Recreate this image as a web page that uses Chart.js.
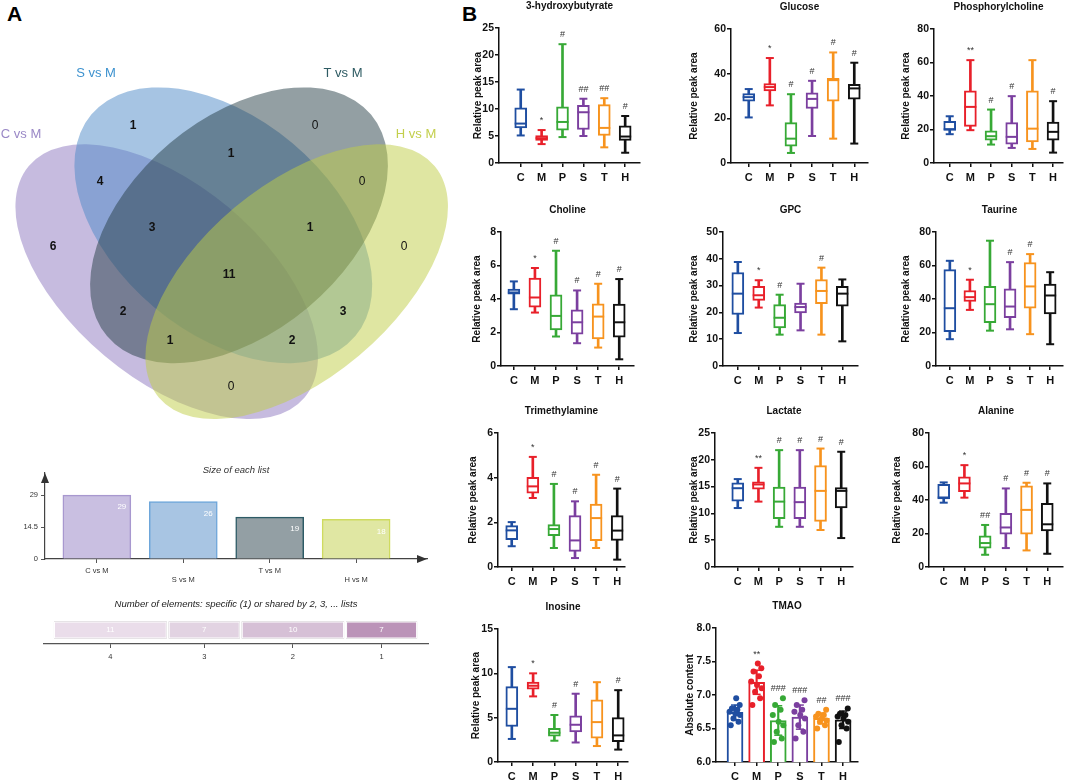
<!DOCTYPE html>
<html>
<head>
<meta charset="utf-8">
<script src="https://cdn.jsdelivr.net/npm/chart.js@4.4.1/dist/chart.umd.min.js"></script>
<style>
  body { margin: 0; background: #fff; }
  #fig { position: relative; width: 1072px; height: 782px; overflow: hidden; font-family: "Liberation Sans", Arial, sans-serif; }
  #fig canvas { position: absolute; }
  .tag { position: absolute; font-weight: bold; font-size: 21px; color: #000; }
</style>
</head>
<body>
<div id="fig">
  <div class="tag" style="left:7px;top:2px">A</div>
  <div class="tag" style="left:462px;top:2px">B</div>
</div>
<script>
// ---------- DATA ----------
const groups = ['C', 'M', 'P', 'S', 'T', 'H'];

// each row: [min, q1, median, q3, max] for C, M, P, S, T, H
const hydroxybutyrate = [[5.1, 6.5, 7.3, 10.2, 13.6], [3.5, 4.2, 4.6, 5.1, 6.1], [4.8, 6.1, 7.6, 10.4, 22.0], [5.0, 6.2, 9.4, 10.7, 11.9], [2.9, 5.1, 6.5, 10.8, 12.0], [1.9, 4.2, 4.9, 6.9, 8.7]];
const hydroxybutyrateSig = ['', '*', '#', '##', '##', '#'];
const glucose = [[20.4, 27.7, 29.5, 31.1, 33.1], [25.8, 32.3, 34.0, 35.6, 47.0], [4.5, 7.5, 10.9, 18.1, 30.8], [12.1, 24.4, 28.7, 31.4, 36.8], [10.9, 27.7, 37.1, 37.9, 49.5], [8.7, 28.6, 33.4, 35.2, 44.9]];
const glucoseSig = ['', '*', '#', '#', '#', '#'];
const phosphorylcholine = [[17.2, 19.5, 20.2, 24.9, 27.9], [19.6, 21.9, 33.5, 43.1, 61.4], [11.0, 13.6, 16.0, 19.2, 31.9], [9.0, 11.2, 15.6, 24.1, 39.9], [8.4, 12.6, 20.5, 43.1, 61.4], [6.2, 13.6, 18.6, 24.5, 36.9]];
const phosphorylcholineSig = ['', '**', '#', '#', '', '#'];
const choline = [[3.39, 4.29, 4.39, 4.59, 5.05], [3.19, 3.51, 4.09, 5.25, 5.85], [1.76, 2.15, 2.99, 4.25, 6.88], [1.36, 1.9, 2.61, 3.35, 4.51], [1.1, 1.62, 2.95, 3.71, 4.91], [0.4, 1.72, 2.61, 3.69, 5.19]];
const cholineSig = ['', '*', '#', '#', '#', '#'];
const gpc = [[12.3, 19.2, 27.0, 34.9, 38.8], [21.8, 24.5, 26.4, 29.7, 32.0], [11.7, 14.2, 18.0, 22.9, 26.6], [13.3, 19.8, 22.0, 23.5, 30.7], [11.7, 23.3, 28.0, 32.2, 36.7], [9.2, 22.3, 27.0, 29.7, 32.3]];
const gpcSig = ['', '*', '#', '', '#', ''];
const taurine = [[16.0, 20.5, 34.5, 57.5, 62.8], [33.5, 38.5, 41.1, 45.1, 51.5], [21.1, 25.9, 36.9, 47.5, 74.8], [21.9, 28.9, 35.5, 46.1, 62.0], [19.0, 34.5, 47.5, 61.8, 66.8], [13.0, 31.1, 42.1, 48.9, 56.0]];
const taurineSig = ['', '*', '', '#', '#', ''];
const trimethylamine = [[0.93, 1.22, 1.64, 1.85, 2.01], [3.09, 3.31, 3.61, 4.01, 4.93], [0.85, 1.4, 1.7, 1.9, 3.72], [0.4, 0.7, 1.19, 2.3, 2.94], [0.85, 1.18, 2.19, 2.82, 4.13], [0.33, 1.19, 1.63, 2.3, 3.51]];
const trimethylamineSig = ['', '*', '#', '#', '#', '#'];
const lactate = [[11.0, 12.3, 14.7, 15.7, 16.4], [12.2, 14.5, 15.4, 15.9, 18.5], [7.5, 9.0, 12.2, 14.9, 21.8], [7.5, 9.0, 12.1, 14.9, 21.8], [6.9, 8.5, 14.2, 18.9, 22.1], [5.4, 11.0, 14.2, 14.8, 21.5]];
const lactateSig = ['', '**', '#', '#', '#', '#'];
const alanine = [[38.4, 40.6, 41.5, 49.3, 50.5], [41.4, 45.0, 49.9, 53.9, 60.8], [7.3, 11.3, 14.3, 18.6, 25.1], [11.3, 19.6, 23.6, 32.1, 46.9], [9.9, 19.6, 34.1, 48.5, 50.3], [7.9, 21.6, 25.5, 38.0, 49.9]];
const alanineSig = ['', '*', '##', '#', '#', '#'];
const inosine = [[2.6, 4.0, 6.0, 8.5, 10.7], [7.4, 8.2, 8.6, 9.0, 10.0], [2.4, 2.9, 3.3, 3.8, 5.3], [2.2, 3.4, 4.2, 5.2, 7.7], [1.8, 2.7, 4.5, 7.0, 9.0], [1.4, 2.3, 3.0, 5.0, 8.1]];
const inosineSig = ['', '*', '#', '#', '', '#'];

const tmaoMean = [6.74, 7.19, 6.62, 6.67, 6.65, 6.63];
const tmaoSd = [0.11, 0.18, 0.22, 0.18, 0.08, 0.13];
const tmaoPoints = [
  [6.55, 6.6, 6.65, 6.7, 6.72, 6.75, 6.78, 6.8, 6.85, 6.95],
  [6.85, 6.95, 7.05, 7.1, 7.15, 7.2, 7.28, 7.35, 7.4, 7.47],
  [6.3, 6.35, 6.45, 6.55, 6.6, 6.7, 6.78, 6.85, 6.95],
  [6.35, 6.45, 6.55, 6.65, 6.7, 6.75, 6.78, 6.85, 6.92],
  [6.5, 6.55, 6.6, 6.62, 6.65, 6.68, 6.7, 6.72, 6.78],
  [6.3, 6.5, 6.55, 6.6, 6.65, 6.68, 6.7, 6.72, 6.8]
];
const tmaoSig = ['', '**', '###', '###', '##', '###'];

// Venn (panel A)
const vennSets = ['C vs M', 'S vs M', 'T vs M', 'H vs M'];
const vennRegions = ['C', 'S', 'T', 'H', 'CS', 'ST', 'TH', 'CT', 'SH', 'CH', 'CST', 'STH', 'CTH', 'CSH', 'CSTH'];
const vennCounts = [6, 1, 0, 0, 4, 1, 0, 2, 3, 0, 3, 1, 1, 2, 11];
const listSizes = [29, 26, 19, 18];
const degreeLabels = ['4', '3', '2', '1'];
const degreeCounts = [11, 7, 10, 7];

// ---------- STYLE / LAYOUT ----------
const ink = '#111';
const fam = '"Liberation Sans", Arial, Helvetica, sans-serif';
const groupColors = ['#1f4ea1', '#e8202a', '#37a936', '#7b3f9f', '#f7931e', '#111111'];
const jitter = [-0.22, 0.18, -0.08, 0.26, 0.02, -0.28, 0.12, -0.16, 0.24, 0.06];

Chart.defaults.font.family = fam;
Chart.defaults.color = ink;

const fig = document.getElementById('fig');
function makeCanvas(left, top, w, h) {
  const c = document.createElement('canvas');
  c.width = w; c.height = h;
  c.style.left = left + 'px'; c.style.top = top + 'px';
  c.style.width = w + 'px'; c.style.height = h + 'px';
  fig.appendChild(c);
  return c;
}

const geom = {
  hb:       {x0: 499, x1: 642,  top: 28,  bottom: 163, labelX: 478, xmin: -0.04, xmax: 6.71},
  glucose:  {x0: 731, x1: 870,  top: 29,  bottom: 163, labelX: 694, xmin: 0.16, xmax: 6.65},
  phospho:  {x0: 934, x1: 1065, top: 29,  bottom: 163, labelX: 906, xmin: 0.24, xmax: 6.48},
  choline:  {x0: 501, x1: 636,  top: 232, bottom: 366, labelX: 477, xmin: 0.39, xmax: 6.7},
  gpc:      {x0: 723, x1: 860,  top: 232, bottom: 366, labelX: 694, xmin: 0.29, xmax: 6.75},
  taurine:  {x0: 936, x1: 1065, top: 232, bottom: 366, labelX: 906, xmin: 0.31, xmax: 6.64},
  tma:      {x0: 498, x1: 627,  top: 433, bottom: 567, labelX: 473, xmin: 0.35, xmax: 6.37},
  lactate:  {x0: 715, x1: 855,  top: 433, bottom: 567, labelX: 694, xmin: -0.1, xmax: 6.57},
  alanine:  {x0: 929, x1: 1065, top: 433, bottom: 567, labelX: 897, xmin: 0.29, xmax: 6.76},
  inosine:  {x0: 498, x1: 630,  top: 629, bottom: 762, labelX: 476, xmin: 0.35, xmax: 6.46},
  tmao:     {x0: 716, x1: 858,  top: 628, bottom: 762, labelX: 690, xmin: 0.12, xmax: 6.69}
};

function sigPlugin(marks, tops) {
  return {
    id: 'sig',
    afterDatasetsDraw(chart) {
      const {ctx, scales: {x, y}} = chart;
      ctx.save();
      ctx.font = '9px ' + fam;
      ctx.fillStyle = '#333';
      ctx.textAlign = 'center';
      ctx.textBaseline = 'alphabetic';
      marks.forEach((m, i) => {
        if (!m) return;
        ctx.fillText(m, x.getPixelForValue(i + 1), y.getPixelForValue(tops[i]) - 7);
      });
      ctx.restore();
    }
  };
}

function panelOptions(g, left, title, yTitle, yMin, yMax, yStep, yFmt) {
  return {
    responsive: false, animation: false, events: [],
    layout: {padding: {left: 0, right: 6, top: 0, bottom: 0}},
    plugins: {
      legend: {display: false}, tooltip: {enabled: false},
      title: {display: true, text: title, color: ink, font: {size: 10, weight: 'bold'},
              padding: {top: 2, bottom: 16}, fullSize: false}
    },
    scales: {
      x: {
        type: 'linear', min: g.xmin, max: g.xmax, offset: false, bounds: 'data',
        afterBuildTicks: s => { s.ticks = groups.map((_, i) => ({value: i + 1})); },
        afterFit: s => { s.height = 30; },
        ticks: {callback: (v, i) => groups[i], color: ink, font: {size: 11, weight: 'bold'},
                padding: 4, maxRotation: 0, autoSkip: false},
        grid: {drawOnChartArea: false, tickLength: 4, color: ink, lineWidth: 1.5, offset: false},
        border: {color: ink, width: 1.5}
      },
      y: {
        min: yMin, max: yMax,
        afterFit: s => { s.width = g.x0 - left; },
        ticks: {stepSize: yStep, color: ink, font: {size: 10.5, weight: 'bold'}, padding: 1,
                callback: yFmt || (v => v)},
        grid: {drawOnChartArea: false, tickLength: 4, color: ink, lineWidth: 1.5},
        border: {color: ink, width: 1.5},
        title: {display: true, text: yTitle, color: ink, font: {size: 10, weight: 'bold'}, padding: 0}
      }
    }
  };
}

function boxChart(g, title, yMax, yStep, stats, sig) {
  const left = Math.round(g.labelX - 6);
  const top = g.top - 30;
  const canvas = makeCanvas(left, top, g.x1 - left + 6, g.bottom - top + 30);
  const pick = k => stats.map((s, i) => ({x: i + 1, y: s[k]}));
  const pts = (k, r) => ({type: 'line', data: pick(k), showLine: false, pointStyle: 'line',
    pointRadius: r, pointHoverRadius: r, pointBorderWidth: 2, pointBorderColor: groupColors, order: 0});
  new Chart(canvas, {
    type: 'bar',
    data: {datasets: [
      pts(2, 6), pts(4, 4), pts(0, 4),
      {data: stats.map((s, i) => ({x: i + 1, y: [s[1], s[3]]})), backgroundColor: '#fff',
       borderColor: groupColors, borderWidth: 2, borderSkipped: false, barThickness: 12, grouped: false, order: 1},
      {data: stats.map((s, i) => ({x: i + 1, y: [s[0], s[4]]})), backgroundColor: groupColors,
       borderWidth: 0, barThickness: 2, grouped: false, order: 2}
    ]},
    options: panelOptions(g, left, title, 'Relative peak area', 0, yMax, yStep),
    plugins: [sigPlugin(sig, stats.map(s => s[4]))]
  });
}

boxChart(geom.hb, '3-hydroxybutyrate', 25, 5, hydroxybutyrate, hydroxybutyrateSig);
boxChart(geom.glucose, 'Glucose', 60, 20, glucose, glucoseSig);
boxChart(geom.phospho, 'Phosphorylcholine', 80, 20, phosphorylcholine, phosphorylcholineSig);
boxChart(geom.choline, 'Choline', 8, 2, choline, cholineSig);
boxChart(geom.gpc, 'GPC', 50, 10, gpc, gpcSig);
boxChart(geom.taurine, 'Taurine', 80, 20, taurine, taurineSig);
boxChart(geom.tma, 'Trimethylamine', 6, 2, trimethylamine, trimethylamineSig);
boxChart(geom.lactate, 'Lactate', 25, 5, lactate, lactateSig);
boxChart(geom.alanine, 'Alanine', 80, 20, alanine, alanineSig);
boxChart(geom.inosine, 'Inosine', 15, 5, inosine, inosineSig);

// --- TMAO: bars with SD and individual points ---
(function () {
  const g = geom.tmao;
  const left = Math.round(g.labelX - 6);
  const top = g.top - 30;
  const canvas = makeCanvas(left, top, g.x1 - left + 6, g.bottom - top + 30);
  const dots = [], dotColors = [];
  tmaoPoints.forEach((arr, i) => arr.forEach((v, j) => {
    dots.push({x: i + 1 + jitter[j % jitter.length] * 0.9, y: v});
    dotColors.push(groupColors[i]);
  }));
  const cap = sign => ({type: 'line', showLine: false, pointStyle: 'line', pointRadius: 4,
    pointBorderWidth: 1.5, pointBorderColor: groupColors, order: 1,
    data: tmaoMean.map((m, i) => ({x: i + 1, y: m + sign * tmaoSd[i]}))});
  const opts = panelOptions(g, left, 'TMAO', 'Absolute content', 6, 8, 0.5, v => v.toFixed(1));
  new Chart(canvas, {
    type: 'bar',
    data: {datasets: [
      {type: 'scatter', data: dots, pointRadius: 3, pointHoverRadius: 3, pointBackgroundColor: dotColors,
       pointBorderWidth: 0, order: 0},
      cap(1), cap(-1),
      {data: tmaoMean.map((m, i) => ({x: i + 1, y: [m - tmaoSd[i], m + tmaoSd[i]]})),
       backgroundColor: groupColors, borderWidth: 0, barThickness: 1.5, grouped: false, order: 2},
      {data: tmaoMean.map((m, i) => ({x: i + 1, y: [6, m]})), backgroundColor: '#fff',
       borderColor: groupColors, borderWidth: 2, borderSkipped: 'start', barThickness: 16, grouped: false, order: 3}
    ]},
    options: opts,
    plugins: [sigPlugin(tmaoSig, tmaoPoints.map(a => Math.max(...a)))]
  });
})();

// --- Panel A: Venn diagram ---
const vennShapes = [
  {cx: 166.7, cy: 281.7, rx: 180, ry: 96.7, rot: 40, fill: 'rgba(141,119,191,0.5)'},
  {cx: 223.3, cy: 225.3, rx: 172.3, ry: 107.3, rot: 40, fill: 'rgba(77,137,199,0.5)'},
  {cx: 239.0, cy: 225.3, rx: 172.3, ry: 107.3, rot: -40, fill: 'rgba(39,63,71,0.5)'},
  {cx: 296.7, cy: 281.7, rx: 180, ry: 96.7, rot: -40, fill: 'rgba(191,205,69,0.5)'}
];
const vennSetPos = [[21, 134, '#9a88c6'], [96, 73, '#3d92cf'], [343, 73, '#2e5b63'], [416, 134, '#c3cf4c']];
const vennPos = {C: [53, 247], S: [133, 126], T: [315, 126], H: [404, 247], CS: [100, 182], ST: [231, 154],
  TH: [362, 182], CT: [123, 312], SH: [343, 312], CH: [231, 387], CST: [152, 228], STH: [310, 228],
  CTH: [170, 341], CSH: [292, 341], CSTH: [229, 275]};

new Chart(makeCanvas(0, 0, 470, 460), {
  type: 'scatter',
  data: {datasets: [{data: vennRegions.map(r => ({x: vennPos[r][0], y: vennPos[r][1]})), pointRadius: 0}]},
  options: {
    responsive: false, animation: false, events: [], layout: {padding: 0},
    scales: {x: {type: 'linear', display: false, min: 0, max: 470},
             y: {type: 'linear', display: false, min: 0, max: 460, reverse: true}},
    plugins: {legend: {display: false}, tooltip: {enabled: false}}
  },
  plugins: [{
    id: 'venn',
    beforeDatasetsDraw(chart) {
      const {ctx, scales: {x, y}} = chart;
      vennShapes.forEach(e => {
        ctx.save();
        ctx.beginPath();
        ctx.ellipse(x.getPixelForValue(e.cx), y.getPixelForValue(e.cy),
          x.getPixelForValue(e.cx + e.rx) - x.getPixelForValue(e.cx),
          Math.abs(y.getPixelForValue(e.cy + e.ry) - y.getPixelForValue(e.cy)),
          e.rot * Math.PI / 180, 0, 2 * Math.PI);
        ctx.fillStyle = e.fill;
        ctx.fill();
        ctx.restore();
      });
    },
    afterDatasetsDraw(chart) {
      const {ctx, scales: {x, y}} = chart;
      const meta = chart.getDatasetMeta(0);
      ctx.save();
      ctx.textAlign = 'center';
      ctx.textBaseline = 'middle';
      ctx.fillStyle = '#111';
      meta.data.forEach((pt, i) => {
        ctx.font = (vennCounts[i] ? 'bold ' : '') + '12px ' + fam;
        ctx.fillText(String(vennCounts[i]), pt.x, pt.y);
      });
      ctx.font = '13px ' + fam;
      vennSets.forEach((s, i) => {
        ctx.fillStyle = vennSetPos[i][2];
        ctx.fillText(s, x.getPixelForValue(vennSetPos[i][0]), y.getPixelForValue(vennSetPos[i][1]));
      });
      ctx.restore();
    }
  }]
});

// --- Size of each list ---
const listFills = ['#c9bfe1', '#a8c5e3', '#939fa4', '#e0e7a3'];
const listBorders = ['#a898cf', '#6ea6da', '#2d5b66', '#cfdb5f'];
new Chart(makeCanvas(0, 460, 470, 129), {
  type: 'bar',
  data: {datasets: [{data: listSizes.map((v, i) => ({x: i + 1, y: v})), backgroundColor: listFills,
    borderColor: listBorders, borderWidth: 1.5, barThickness: 68, borderSkipped: 'start'}]},
  options: {
    responsive: false, animation: false, events: [],
    layout: {padding: {top: 13, right: 43, left: 0, bottom: 0}},
    plugins: {legend: {display: false}, tooltip: {enabled: false}},
    scales: {
      x: {type: 'linear', min: 0.40, max: 4.82, offset: false, bounds: 'data',
        afterBuildTicks: s => { s.ticks = vennSets.map((_, i) => ({value: i + 1})); },
        afterFit: s => { s.height = 30; },
        ticks: {callback: (v, i) => (i % 2 ? ['', vennSets[i]] : vennSets[i]), font: {size: 7.5},
                color: '#333', padding: 3, maxRotation: 0, autoSkip: false},
        grid: {drawOnChartArea: false, tickLength: 4, color: '#555', offset: false},
        border: {color: '#444', width: 1.2}},
      y: {min: 0, max: 39,
        afterBuildTicks: s => { s.ticks = [0, 14.5, 29].map(v => ({value: v})); },
        afterFit: s => { s.width = 45; },
        ticks: {font: {size: 7.5}, color: '#333', padding: 3},
        grid: {drawOnChartArea: false, tickLength: 4, color: '#555'},
        border: {color: '#444', width: 1.2}}
    }
  },
  plugins: [{
    id: 'sizeDeco',
    afterDraw(chart) {
      const {ctx, chartArea: a} = chart;
      ctx.save();
      ctx.fillStyle = '#333';
      ctx.beginPath();
      ctx.moveTo(a.left, a.top); ctx.lineTo(a.left - 4, a.top + 10); ctx.lineTo(a.left + 4, a.top + 10); ctx.fill();
      ctx.beginPath();
      ctx.moveTo(a.right, a.bottom); ctx.lineTo(a.right - 10, a.bottom - 4); ctx.lineTo(a.right - 10, a.bottom + 4); ctx.fill();
      ctx.font = 'italic 9.5px ' + fam;
      ctx.textAlign = 'center'; ctx.textBaseline = 'middle';
      ctx.fillText('Size of each list', (a.left + a.right) / 2, a.top - 3);
      ctx.fillStyle = '#fff';
      ctx.font = '8px ' + fam;
      chart.getDatasetMeta(0).data.forEach((bar, i) => {
        ctx.fillText(String(listSizes[i]), bar.x + bar.width / 2 - 9, bar.y + 12);
      });
      ctx.restore();
    }
  }]
});

// --- Number of elements by degree ---
const degreeFills = ['#eaddea', '#e2d3e2', '#d6c0d6', '#bb93b8'];
new Chart(makeCanvas(0, 598, 470, 68), {
  type: 'bar',
  data: {labels: [''], datasets: degreeCounts.map((v, i) => ({data: [v], backgroundColor: degreeFills[i],
    borderColor: '#9b8f9b', borderWidth: 1, barThickness: 19, borderSkipped: false, inflateAmount: -1}))},
  options: {
    indexAxis: 'y', responsive: false, animation: false, events: [],
    layout: {padding: {top: 18, left: 44, right: 42, bottom: 0}},
    plugins: {legend: {display: false}, tooltip: {enabled: false}},
    scales: {
      y: {stacked: true, display: false},
      x: {stacked: true, min: -0.86, max: 35.95,
        afterBuildTicks: s => {
          let acc = 0;
          s.ticks = degreeCounts.map(v => { const m = acc + v / 2; acc += v; return {value: m}; });
        },
        afterFit: s => { s.height = 22; },
        ticks: {callback: (v, i) => degreeLabels[i], font: {size: 7.5}, color: '#333', padding: 4,
                maxRotation: 0, autoSkip: false},
        grid: {drawOnChartArea: false, tickLength: 4, color: '#555'},
        border: {color: '#555', width: 1.2}}
    }
  },
  plugins: [{
    id: 'degDeco',
    afterDraw(chart) {
      const {ctx, chartArea: a} = chart;
      ctx.save();
      ctx.textAlign = 'center'; ctx.textBaseline = 'middle';
      ctx.fillStyle = '#222';
      ctx.font = 'italic 9.5px ' + fam;
      ctx.fillText('Number of elements: specific (1) or shared by 2, 3, ... lists', (a.left + a.right) / 2, a.top - 12);
      ctx.fillStyle = '#fff';
      ctx.font = '8px ' + fam;
      degreeCounts.forEach((v, i) => {
        const bar = chart.getDatasetMeta(i).data[0];
        ctx.fillText(String(v), (bar.x + bar.base) / 2, bar.y);
      });
      ctx.restore();
    }
  }]
});
</script>
</body>
</html>
